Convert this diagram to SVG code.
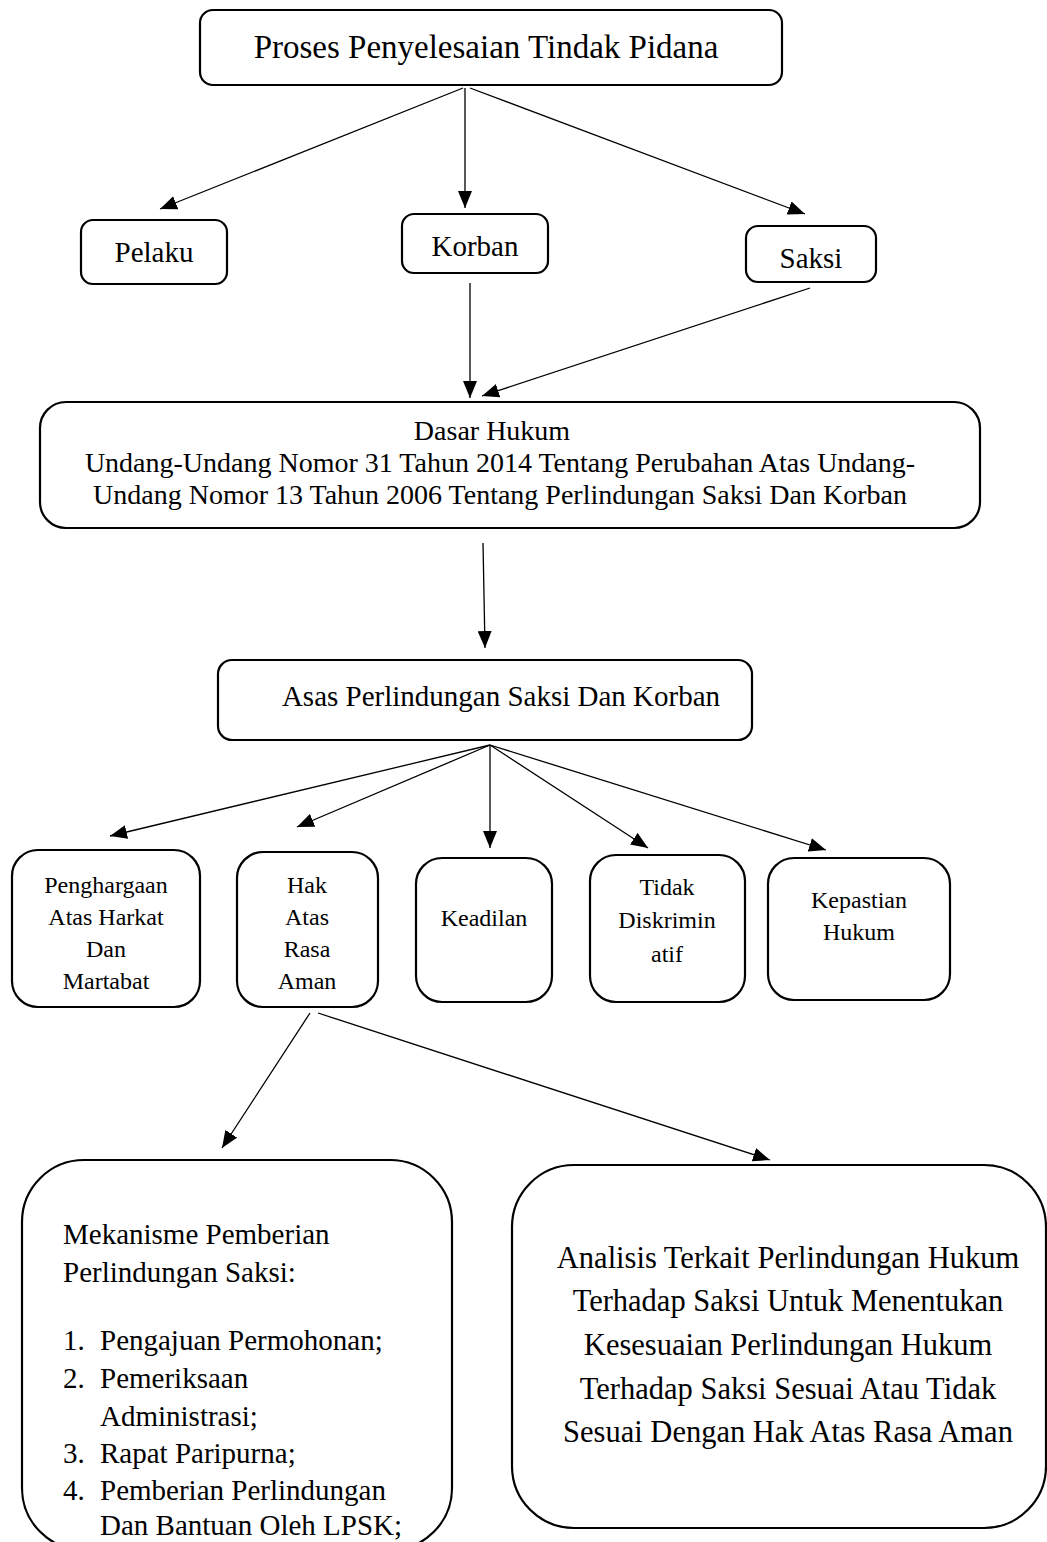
<svg xmlns="http://www.w3.org/2000/svg" width="1047" height="1542" viewBox="0 0 1047 1542">
<style>
.box{fill:#fff;stroke:#000;stroke-width:2.2}
.t{font-family:"Liberation Serif","Times New Roman",serif;fill:#000;text-anchor:middle}
.tl{font-family:"Liberation Serif","Times New Roman",serif;fill:#000}
.s{font-size:24px}
.c{stroke:#000;stroke-width:1.3;fill:none;marker-end:url(#ah)}
</style>
<defs>
<marker id="ah" markerUnits="userSpaceOnUse" markerWidth="18" markerHeight="14" refX="17" refY="7" orient="auto">
<path d="M0,0 L17,7 L0,14 Z" fill="#000"/>
</marker>
</defs>
<rect width="1047" height="1542" fill="#fff"/>
<g id="connectors">
<line class="c" x1="463" y1="88" x2="160" y2="209"/>
<line class="c" x1="465" y1="88" x2="465" y2="208"/>
<line class="c" x1="470" y1="88" x2="805" y2="214"/>
<line class="c" x1="470" y1="283" x2="470" y2="398"/>
<line class="c" x1="810" y1="288" x2="482" y2="396"/>
<line class="c" x1="483" y1="543" x2="485" y2="648"/>
<line class="c" x1="490" y1="745" x2="110" y2="836"/>
<line class="c" x1="490" y1="745" x2="297" y2="827"/>
<line class="c" x1="490" y1="745" x2="490" y2="848"/>
<line class="c" x1="490" y1="745" x2="648" y2="848"/>
<line class="c" x1="490" y1="745" x2="826" y2="850"/>
<line class="c" x1="310" y1="1013" x2="222" y2="1148"/>
<line class="c" x1="318" y1="1013" x2="770" y2="1160"/>
</g>
<g id="proses">
<rect class="box" x="200" y="10" width="582" height="75" rx="13"/>
<text class="t" x="486" y="58" font-size="33">Proses Penyelesaian Tindak Pidana</text>
</g>
<g id="pelaku">
<rect class="box" x="81" y="220" width="146" height="64" rx="12"/>
<text class="t" x="154" y="262" font-size="29">Pelaku</text>
</g>
<g id="korban">
<rect class="box" x="402" y="214" width="146" height="59" rx="12"/>
<text class="t" x="475" y="256" font-size="29">Korban</text>
</g>
<g id="saksi">
<rect class="box" x="746" y="226" width="130" height="56" rx="12"/>
<text class="t" x="811" y="268" font-size="29">Saksi</text>
</g>
<g id="dasar">
<rect class="box" x="40" y="402" width="940" height="126" rx="26"/>
<text class="t" x="492" y="440" font-size="28">Dasar Hukum</text>
<text class="t" x="500" y="472" font-size="28">Undang-Undang Nomor 31 Tahun 2014 Tentang Perubahan Atas Undang-</text>
<text class="t" x="500" y="504" font-size="28">Undang Nomor 13 Tahun 2006 Tentang Perlindungan Saksi Dan Korban</text>
</g>
<g id="asas">
<rect class="box" x="218" y="660" width="534" height="80" rx="14"/>
<text class="t" x="501" y="706" font-size="29">Asas Perlindungan Saksi Dan Korban</text>
</g>
<g id="penghargaan">
<rect class="box" x="12" y="850" width="188" height="157" rx="26"/>
<text class="t s" x="106" y="893">Penghargaan</text>
<text class="t s" x="106" y="925">Atas Harkat</text>
<text class="t s" x="106" y="957">Dan</text>
<text class="t s" x="106" y="989">Martabat</text>
</g>
<g id="hak">
<rect class="box" x="237" y="852" width="141" height="155" rx="26"/>
<text class="t s" x="307" y="893">Hak</text>
<text class="t s" x="307" y="925">Atas</text>
<text class="t s" x="307" y="957">Rasa</text>
<text class="t s" x="307" y="989">Aman</text>
</g>
<g id="keadilan">
<rect class="box" x="416" y="858" width="136" height="144" rx="26"/>
<text class="t s" x="484" y="926">Keadilan</text>
</g>
<g id="tidak">
<rect class="box" x="590" y="855" width="155" height="147" rx="26"/>
<text class="t s" x="667" y="895">Tidak</text>
<text class="t s" x="667" y="928">Diskrimin</text>
<text class="t s" x="667" y="962">atif</text>
</g>
<g id="kepastian">
<rect class="box" x="768" y="858" width="182" height="142" rx="26"/>
<text class="t s" x="859" y="908">Kepastian</text>
<text class="t s" x="859" y="940">Hukum</text>
</g>
<g id="mekanisme">
<rect class="box" x="22" y="1160" width="430" height="390" rx="62"/>
<text class="tl" x="63" y="1244" font-size="29">Mekanisme Pemberian</text>
<text class="tl" x="63" y="1282" font-size="29">Perlindungan Saksi:</text>
<text class="tl" x="63" y="1350" font-size="29">1.</text>
<text class="tl" x="100" y="1350" font-size="29">Pengajuan Permohonan;</text>
<text class="tl" x="63" y="1388" font-size="29">2.</text>
<text class="tl" x="100" y="1388" font-size="29">Pemeriksaan</text>
<text class="tl" x="100" y="1426" font-size="29">Administrasi;</text>
<text class="tl" x="63" y="1463" font-size="29">3.</text>
<text class="tl" x="100" y="1463" font-size="29">Rapat Paripurna;</text>
<text class="tl" x="63" y="1500" font-size="29">4.</text>
<text class="tl" x="100" y="1500" font-size="29">Pemberian Perlindungan</text>
<text class="tl" x="100" y="1535" font-size="29">Dan Bantuan Oleh LPSK;</text>
</g>
<g id="analisis">
<rect class="box" x="512" y="1165" width="534" height="363" rx="62"/>
<text class="t" x="788" y="1268" font-size="30.5">Analisis Terkait Perlindungan Hukum</text>
<text class="t" x="788" y="1311" font-size="30.5">Terhadap Saksi Untuk Menentukan</text>
<text class="t" x="788" y="1355" font-size="30.5">Kesesuaian Perlindungan Hukum</text>
<text class="t" x="788" y="1399" font-size="30.5">Terhadap Saksi Sesuai Atau Tidak</text>
<text class="t" x="788" y="1442" font-size="30.5">Sesuai Dengan Hak Atas Rasa Aman</text>
</g>
</svg>
